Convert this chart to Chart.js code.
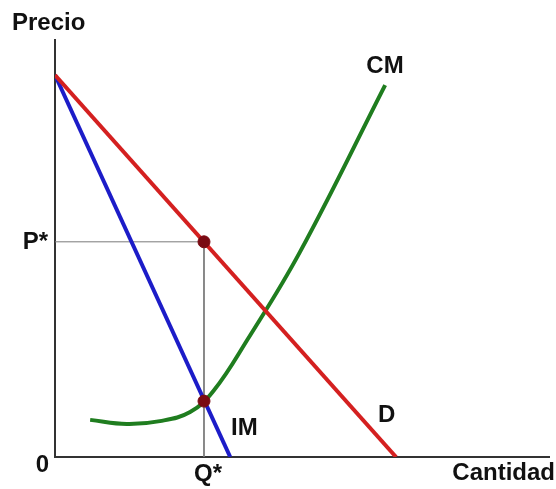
<!DOCTYPE html>
<html>
<head>
<meta charset="utf-8">
<script src="https://cdn.jsdelivr.net/npm/chart.js@4.4.1/dist/chart.umd.min.js"></script>
<style>
  html, body { margin: 0; padding: 0; background: #fff; }
  #grafico { display: block; }
</style>
</head>
<body>
<canvas id="grafico" width="556" height="489"></canvas>
<script>
// curva de demanda (D) e ingreso marginal (IM)
const demandaX = [0, 68.9];
const demandaY = [91.6, 0];
const ingresoMgX = [0, 35.4];
const ingresoMgY = [91.6, 0];

// costo marginal (CM)
const costoMgX = [7.1, 14.5, 21.2, 27.3, 32.0, 38.8, 49.5, 66.7];
const costoMgY = [8.9, 7.9, 8.6, 10.8, 15.8, 28.0, 49.2, 89.2];

// equilibrio del monopolio
const qEstrella = 30.1;
const pEstrella = 51.6;
const cmEnQ = 13.4;

const fuente = 'bold 24px "Liberation Sans", Arial, sans-serif';

function aPuntos(xs, ys) {
    return xs.map((x, i) => ({ x: x, y: ys[i] }));
}

// dibuja las etiquetas de texto
const etiquetas = {
    id: 'etiquetas',
    afterDraw(chart) {
        const ctx = chart.ctx;
        const sx = chart.scales.x;
        const sy = chart.scales.y;
        ctx.save();
        ctx.font = fuente;
        ctx.fillStyle = '#111';
        ctx.textBaseline = 'middle';

        ctx.textAlign = 'left';
        ctx.fillText('Precio', 12, 23);
        ctx.fillText('IM', 231, 428);
        ctx.fillText('D', 378, 415);

        ctx.textAlign = 'center';
        ctx.fillText('CM', 385, 66);
        ctx.fillText('Q*', sx.getPixelForValue(qEstrella) + 4, 474);

        ctx.textAlign = 'right';
        ctx.fillText('P*', 48, sy.getPixelForValue(pEstrella) + 1);
        ctx.fillText('0', 49, 465);
        ctx.fillText('Cantidad', 555, 473);
        ctx.restore();
    }
};

const ctx = document.getElementById('grafico').getContext('2d');

new Chart(ctx, {
    type: 'scatter',
    data: {
        datasets: [{
            label: 'equilibrio',
            data: [{ x: qEstrella, y: pEstrella }, { x: qEstrella, y: cmEnQ }],
            showLine: false,
            pointRadius: 6,
            pointBackgroundColor: '#7a0a12',
            pointBorderColor: '#7a0a12',
            order: 0
        }, {
            label: 'D',
            data: aPuntos(demandaX, demandaY),
            showLine: true,
            borderColor: '#d42020',
            borderWidth: 4,
            pointRadius: 0,
            order: 1
        }, {
            label: 'IM',
            data: aPuntos(ingresoMgX, ingresoMgY),
            showLine: true,
            borderColor: '#1c1cc8',
            borderWidth: 4,
            pointRadius: 0,
            order: 1
        }, {
            label: 'CM',
            data: aPuntos(costoMgX, costoMgY),
            showLine: true,
            borderColor: '#1f7d1f',
            borderWidth: 4,
            pointRadius: 0,
            tension: 0.4,
            order: 1
        }, {
            label: 'guias',
            data: [{ x: 0, y: pEstrella }, { x: qEstrella, y: pEstrella }, { x: qEstrella, y: 0 }],
            showLine: true,
            borderColor: '#7a7a7a',
            borderWidth: 1,
            pointRadius: 0,
            order: 2
        }]
    },
    options: {
        responsive: false,
        animation: false,
        devicePixelRatio: 1,
        layout: {
            padding: { left: 55, right: 0, top: 40, bottom: 32 }
        },
        plugins: {
            legend: { display: false },
            tooltip: { enabled: false }
        },
        scales: {
            x: {
                type: 'linear',
                min: 0,
                max: 99.8,
                ticks: { display: false },
                grid: { display: false },
                border: { display: true, color: '#333', width: 2 },
                afterFit: s => { s.height = 0; }
            },
            y: {
                type: 'linear',
                min: 0,
                max: 100,
                ticks: { display: false },
                grid: { display: false },
                border: { display: true, color: '#333', width: 2 },
                afterFit: s => { s.width = 0; }
            }
        }
    },
    plugins: [etiquetas]
});
</script>
</body>
</html>
